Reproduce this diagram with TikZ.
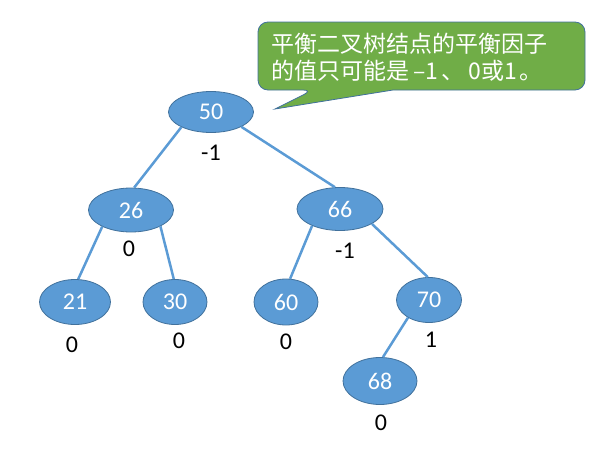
\documentclass[tikz,border=0pt]{standalone}
\usepackage{fontspec}
\setmainfont{Carlito}
\newfontfamily\cjkfont{Noto Sans CJK SC}
\usetikzlibrary{shapes.geometric}
\definecolor{nodeblue}{RGB}{91,155,213}
\definecolor{rimblue}{RGB}{65,113,156}
\definecolor{notegreen}{RGB}{112,173,71}

\tikzset{
  keynode/.style={ellipse,draw=rimblue,line width=0.8pt,fill=nodeblue,text=white,
    font=\fontsize{24}{24}\selectfont,inner sep=0pt,minimum width=#1,minimum height=44pt},
  balance/.style={font=\fontsize{24}{24}\selectfont,inner sep=0pt},
  branch/.style={line width=2.5pt,color=nodeblue}
}

\begin{document}
\begin{tikzpicture}[x=1pt,y=-1pt]
  \useasboundingbox (0,0) rectangle (597,455);
  % Callout
  \filldraw[draw=rimblue,line width=0.8pt,fill=notegreen]
    (275,109) -- (393,90) [rounded corners=10pt] -- (585,90) -- (585,22) -- (258,22)
    -- (258,90) -- (313,90) [sharp corners] -- cycle;
  \node[anchor=west,align=left,inner sep=0pt,text=white,
    font=\cjkfont\fontsize{23}{27}\selectfont] (note) at (271,57)
    {平衡二叉树结点的平衡因子\\的值只可能是\,–1\,、\hspace{4pt}0或1\hspace{2pt}。};
  % Keys
  \node[keynode=85pt,minimum height=41pt] (n50) at (211,112) {50};
  \node[keynode=85pt] (n26) at (131,210) {26};
  \node[keynode=86pt,minimum height=43pt] (n66) at (340,209) {66};
  \node[keynode=71pt,minimum height=45pt] (n21) at (75,302) {21};
  \node[keynode=64pt,minimum height=45pt] (n30) at (175,302) {30};
  \node[keynode=64pt,minimum height=46pt] (n60) at (286,302) {60};
  \node[keynode=65pt,minimum height=45pt] (n70) at (429,300) {70};
  \node[keynode=74pt,minimum height=47pt] (n68) at (380,381) {68};
  % Branches
  \draw[branch] (n50.207) -- (n26.82);
  \draw[branch] (n50.-26) -- (n66.103);
  \draw[branch] (n26.210) -- (n21.82);
  \draw[branch] (n26.-29) -- (n30.93);
  \draw[branch] (n66.211) -- (n60.80);
  \draw[branch] (n66.-25) -- (n70.93);
  \draw[branch] (n70.220) -- (n68.83);
  % Balance factors
  \node[balance] (b50) at (211,153) {-1};
  \node[balance] (b26) at (129,249) {0};
  \node[balance] (b66) at (345,251) {-1};
  \node[balance] (b21) at (72,345) {0};
  \node[balance] (b30) at (179,341) {0};
  \node[balance] (b60) at (286,342) {0};
  \node[balance] (b70) at (431,340) {1};
  \node[balance] (b68) at (381,423) {0};
\end{tikzpicture}
\end{document}
